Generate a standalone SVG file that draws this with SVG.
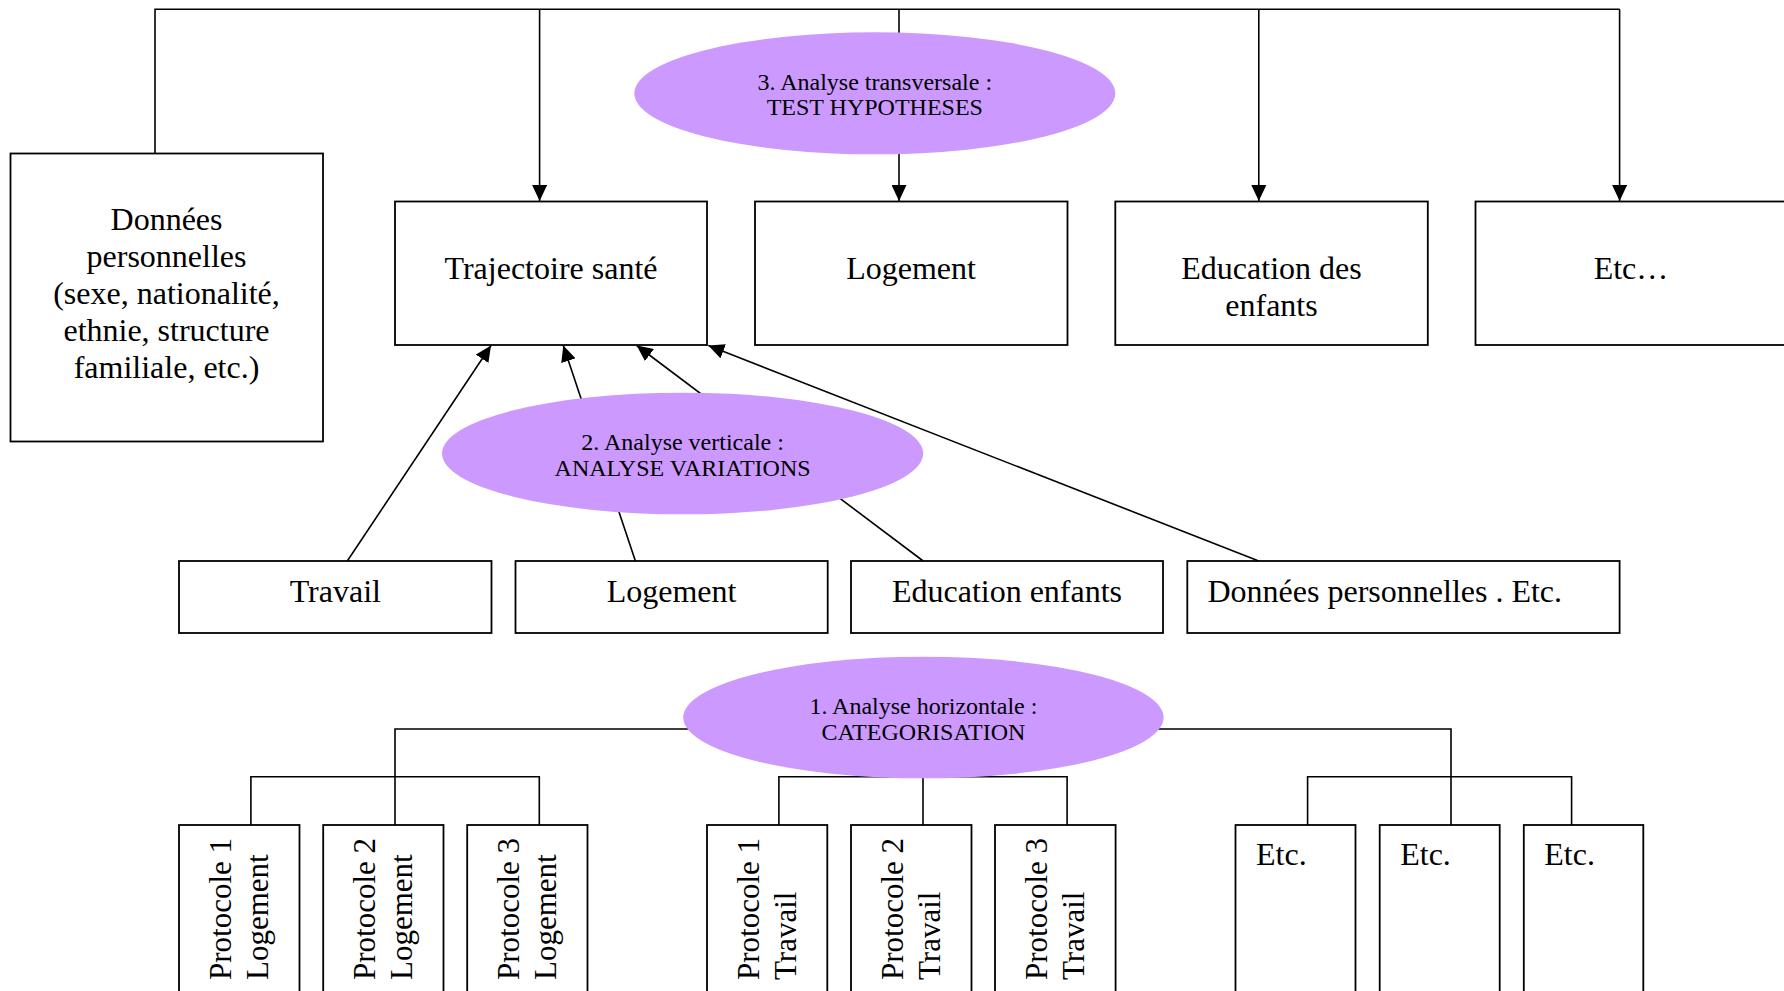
<svg xmlns="http://www.w3.org/2000/svg" width="1784" height="991" viewBox="0 0 1784 991">
<style>
.box{fill:#fff;stroke:#000;stroke-width:1.8}
.ell{fill:#cc99ff;stroke:none}
.ln{fill:none;stroke:#000;stroke-width:1.6}
.t{font-family:"Liberation Serif","Times New Roman",serif;font-size:32px;fill:#000}
.tc{text-anchor:middle}
.et{font-family:"Liberation Serif","Times New Roman",serif;font-size:24px;fill:#000;text-anchor:middle}
.rt{font-family:"Liberation Serif","Times New Roman",serif;font-size:31px;fill:#000}
</style>
<defs>
<marker id="ah" markerUnits="userSpaceOnUse" markerWidth="16" markerHeight="15" refX="16" refY="7.5" orient="auto" viewBox="0 0 16 15">
<path d="M0,0 L16,7.5 L0,15 z" fill="#000"/>
</marker>
</defs>
<rect width="1784" height="991" fill="#fff"/>
<g id="connectors">
<polyline class="ln" points="155,153 155,9.3 1619.6,9.3"/>
<line class="ln" x1="539.6" y1="9.3" x2="539.6" y2="201" marker-end="url(#ah)"/>
<line class="ln" x1="899" y1="9.3" x2="899" y2="201" marker-end="url(#ah)"/>
<line class="ln" x1="1258.8" y1="9.3" x2="1258.8" y2="201" marker-end="url(#ah)"/>
<line class="ln" x1="1619.6" y1="9.3" x2="1619.6" y2="201" marker-end="url(#ah)"/>
<line class="ln" x1="347.3" y1="561" x2="491" y2="345.5" marker-end="url(#ah)"/>
<line class="ln" x1="635.4" y1="561" x2="563.3" y2="345.5" marker-end="url(#ah)"/>
<line class="ln" x1="923.2" y1="561" x2="636.7" y2="345.5" marker-end="url(#ah)"/>
<line class="ln" x1="1258.8" y1="561" x2="708.3" y2="345.5" marker-end="url(#ah)"/>
<polyline class="ln" points="923,729 395,729 395,825"/>
<polyline class="ln" points="250.9,825 250.9,776.7 539.3,776.7 539.3,825"/>
<polyline class="ln" points="778.9,825 778.9,776.7 1067.1,776.7 1067.1,825"/>
<line class="ln" x1="923" y1="729" x2="923" y2="825"/>
<polyline class="ln" points="923,729 1451,729 1451,825"/>
<polyline class="ln" points="1307.6,825 1307.6,776.7 1571.6,776.7 1571.6,825"/>
</g>
<g id="node-donnees">
<rect class="box" x="10.5" y="153.5" width="312.5" height="288"/>
<text class="t tc" x="166.5" y="229.5">Données</text>
<text class="t tc" x="166.5" y="266.5">personnelles</text>
<text class="t tc" x="166.5" y="303.5">(sexe, nationalité,</text>
<text class="t tc" x="166.5" y="340.5">ethnie, structure</text>
<text class="t tc" x="166.5" y="377.5">familiale, etc.)</text>
</g>
<g id="node-trajectoire">
<rect class="box" x="395" y="201.5" width="312" height="143.5"/>
<text class="t tc" x="551" y="279">Trajectoire santé</text>
</g>
<g id="node-logement-top">
<rect class="box" x="755" y="201.5" width="312.5" height="143.5"/>
<text class="t tc" x="911" y="279">Logement</text>
</g>
<g id="node-education-top">
<rect class="box" x="1115.3" y="201.5" width="312.5" height="143.5"/>
<text class="t tc" x="1271.5" y="279">Education des</text>
<text class="t tc" x="1271.5" y="315.5">enfants</text>
</g>
<g id="node-etc-top">
<rect class="box" x="1475.5" y="201.5" width="312" height="143.5"/>
<text class="t tc" x="1631" y="279">Etc…</text>
</g>
<g id="ellipse-3">
<ellipse class="ell" cx="874.8" cy="93.3" rx="240.5" ry="61"/>
<text class="et" x="874.8" y="90">3. Analyse transversale :</text>
<text class="et" x="874.8" y="115.3">TEST HYPOTHESES</text>
</g>
<g id="node-travail">
<rect class="box" x="179" y="561" width="312.5" height="72"/>
<text class="t tc" x="335.3" y="601.5">Travail</text>
</g>
<g id="node-logement">
<rect class="box" x="515.5" y="561" width="312.2" height="72"/>
<text class="t tc" x="671.6" y="601.5">Logement</text>
</g>
<g id="node-education">
<rect class="box" x="851" y="561" width="312" height="72"/>
<text class="t tc" x="1007" y="601.5">Education enfants</text>
</g>
<g id="node-donnees-etc">
<rect class="box" x="1187.3" y="561" width="432.3" height="72"/>
<text class="t" x="1207.5" y="601.5">Données personnelles . Etc.</text>
</g>
<g id="ellipse-2">
<ellipse class="ell" cx="682.6" cy="453.5" rx="240.6" ry="60.8"/>
<text class="et" x="682.6" y="450">2. Analyse verticale :</text>
<text class="et" x="682.6" y="475.5">ANALYSE VARIATIONS</text>
</g>
<g id="node-p1-logement">
<rect class="box" x="179" y="825" width="120.5" height="180"/>
<text class="rt" transform="translate(231,980) rotate(-90)">Protocole 1</text>
<text class="rt" transform="translate(267.5,980) rotate(-90)">Logement</text>
</g>
<g id="node-p2-logement">
<rect class="box" x="323.2" y="825" width="120.3" height="180"/>
<text class="rt" transform="translate(375.2,980) rotate(-90)">Protocole 2</text>
<text class="rt" transform="translate(411.7,980) rotate(-90)">Logement</text>
</g>
<g id="node-p3-logement">
<rect class="box" x="467.2" y="825" width="120.3" height="180"/>
<text class="rt" transform="translate(519.2,980) rotate(-90)">Protocole 3</text>
<text class="rt" transform="translate(555.7,980) rotate(-90)">Logement</text>
</g>
<g id="node-p1-travail">
<rect class="box" x="707" y="825" width="120.3" height="180"/>
<text class="rt" transform="translate(759,980) rotate(-90)">Protocole 1</text>
<text class="rt" transform="translate(795.5,980) rotate(-90)">Travail</text>
</g>
<g id="node-p2-travail">
<rect class="box" x="851" y="825" width="120.5" height="180"/>
<text class="rt" transform="translate(903,980) rotate(-90)">Protocole 2</text>
<text class="rt" transform="translate(939.5,980) rotate(-90)">Travail</text>
</g>
<g id="node-p3-travail">
<rect class="box" x="995" y="825" width="120.6" height="180"/>
<text class="rt" transform="translate(1047,980) rotate(-90)">Protocole 3</text>
<text class="rt" transform="translate(1083.5,980) rotate(-90)">Travail</text>
</g>
<g id="node-etc-1">
<rect class="box" x="1235.5" y="825" width="120" height="180"/>
<text class="t" x="1256" y="865">Etc.</text>
</g>
<g id="node-etc-2">
<rect class="box" x="1379.7" y="825" width="120" height="180"/>
<text class="t" x="1400.2" y="865">Etc.</text>
</g>
<g id="node-etc-3">
<rect class="box" x="1523.8" y="825" width="119.5" height="180"/>
<text class="t" x="1544.3" y="865">Etc.</text>
</g>
<g id="ellipse-1">
<ellipse class="ell" cx="923.4" cy="717.5" rx="240.2" ry="60.8"/>
<text class="et" x="923.4" y="714">1. Analyse horizontale :</text>
<text class="et" x="923.4" y="739.5">CATEGORISATION</text>
</g>
</svg>
